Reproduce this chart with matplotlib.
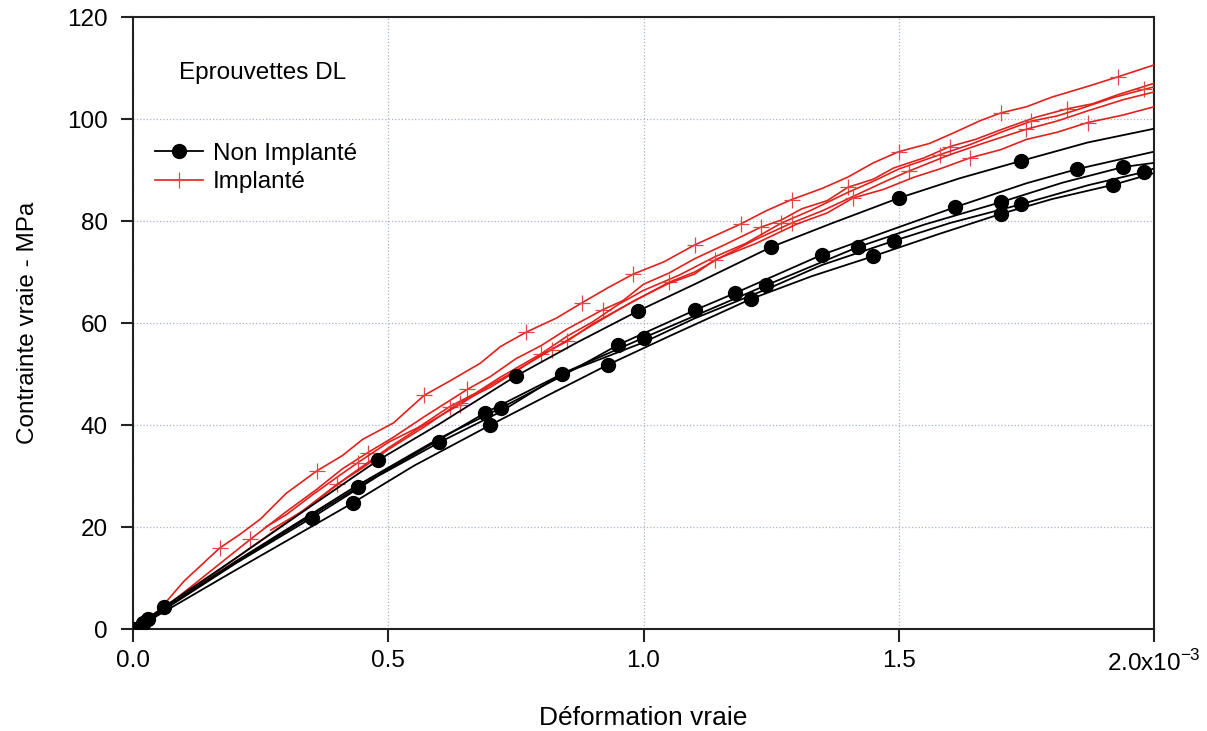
import matplotlib
matplotlib.use("Agg")
import matplotlib.pyplot as plt

plt.rcParams['font.family'] = ['Liberation Sans', 'DejaVu Sans']

# strain in units of 1e-3, stress in MPa
## Non implanté (black)
k1_x = [0, 0.06, 0.2, 0.35, 0.48, 0.6, 0.75, 0.87, 0.99, 1.1, 1.25, 1.37, 1.5, 1.62, 1.74, 1.87, 2.0]
k1_y = [0, 4.3, 13.8, 24.2, 33.1, 40.2, 49.6, 56.2, 62.4, 67.6, 74.9, 79.6, 84.5, 88.4, 91.8, 95.4, 98.1]
k1_mk = [0, 1, 4, 6, 8, 10, 12, 14]

k2_x = [0, 0.03, 0.2, 0.43, 0.6, 0.72, 0.84, 0.95, 1.1, 1.18, 1.35, 1.5, 1.61, 1.75, 1.85, 2.0]
k2_y = [0, 2.0, 13.2, 27.6, 37.4, 43.3, 49.6, 55.7, 62.5, 65.9, 73.4, 78.8, 82.7, 87.4, 90.2, 93.6]
k2_mk = [1, 5, 7, 8, 9, 10, 12, 14]

k3_x = [0, 0.02, 0.2, 0.44, 0.69, 0.85, 1.0, 1.24, 1.42, 1.55, 1.70, 1.82, 1.94, 2.0]
k3_y = [0, 1.2, 13.0, 27.8, 42.4, 50.5, 57.1, 67.4, 74.9, 79.3, 83.7, 87.5, 90.6, 91.4]
k3_mk = [1, 3, 4, 6, 7, 8, 10, 12]

k4_x = [0, 0.03, 0.2, 0.35, 0.48, 0.60, 0.72, 0.84, 1.0, 1.1, 1.25, 1.35, 1.49, 1.6, 1.74, 1.87, 1.98, 2.0]
k4_y = [0, 1.8, 12.8, 21.8, 30.0, 36.6, 42.6, 50.0, 56.2, 60.9, 67.0, 71.4, 76.1, 79.6, 83.3, 87.0, 89.6, 90.3]
k4_mk = [3, 5, 7, 12, 14, 16]

k5_x = [0, 0.02, 0.2, 0.43, 0.55, 0.70, 0.82, 0.93, 1.05, 1.21, 1.33, 1.45, 1.58, 1.70, 1.80, 1.92, 2.0]
k5_y = [0, 1.0, 11.5, 24.7, 32.0, 40.0, 46.2, 51.8, 57.4, 64.7, 69.2, 73.1, 77.5, 81.4, 84.3, 87.1, 89.4]
k5_mk = [0, 1, 3, 5, 7, 9, 11, 13, 15]

## Implanté (red)
r1_x = [0, 0.05, 0.10, 0.17, 0.21, 0.25, 0.30, 0.36, 0.41, 0.45, 0.51, 0.57, 0.62, 0.68, 0.72, 0.77, 0.83, 0.88,
        0.93, 0.98, 1.04, 1.10, 1.19, 1.24, 1.29, 1.35, 1.40, 1.45, 1.50, 1.56, 1.61, 1.66, 1.70, 1.75, 1.80,
        1.87, 1.93, 2.0]
r1_y = [0, 3.6, 9.4, 15.9, 18.6, 21.6, 26.6, 31.0, 34.0, 37.2, 40.4, 45.8, 48.6, 52.1, 55.4, 58.2, 61.0, 64.0,
        66.9, 69.6, 72.0, 75.3, 79.4, 82.0, 84.2, 86.4, 88.6, 91.4, 93.6, 95.2, 97.4, 99.7, 101.2, 102.4, 104.3,
        106.4, 108.3, 110.6]
r1_mk = [3, 7, 11, 15, 17, 19, 21, 22, 24, 28, 32, 36]

r2_x = [0, 0.05, 0.12, 0.23, 0.30, 0.36, 0.41, 0.46, 0.51, 0.57, 0.655, 0.70, 0.75, 0.80, 0.85, 0.92, 0.96, 1.0,
        1.05, 1.1, 1.16, 1.23, 1.27, 1.31, 1.36, 1.40, 1.45, 1.49, 1.55, 1.60, 1.65, 1.70, 1.77, 1.83, 1.88,
        1.93, 2.0]
r2_y = [0, 3.3, 8.8, 17.6, 23.0, 27.4, 31.4, 34.6, 37.6, 41.6, 47.0, 49.5, 53.0, 55.6, 58.8, 62.6, 64.4, 67.6,
        69.8, 72.6, 75.4, 78.8, 80.2, 82.4, 84.0, 86.6, 88.2, 90.4, 92.4, 94.6, 96.0, 97.9, 100.4, 102.0, 103.0,
        104.8, 107.0]
r2_mk = [3, 7, 10, 15, 21, 25, 29, 33]

r3_x = [0.26, 0.30, 0.35, 0.40, 0.44, 0.5, 0.56, 0.62, 0.67, 0.72, 0.80, 0.85, 0.90, 0.95, 1.0, 1.07, 1.14,
        1.20, 1.27, 1.33, 1.40, 1.45, 1.50, 1.58, 1.64, 1.70, 1.76, 1.81, 1.855, 1.92, 1.98, 2.0]
r3_y = [20.0, 22.4, 26.2, 29.8, 32.6, 36.6, 39.6, 43.6, 46.2, 49.4, 54.0, 57.4, 60.2, 63.6, 66.4, 69.4, 73.0,
        75.6, 79.6, 82.2, 85.6, 87.8, 90.2, 93.0, 95.0, 97.4, 99.6, 100.6, 102.0, 104.2, 105.8, 106.3]
r3_mk = [4, 7, 10, 18, 23, 26, 30]

r4_x = [0.27, 0.33, 0.40, 0.45, 0.50, 0.57, 0.64, 0.70, 0.75, 0.80, 0.85, 0.90, 0.95, 1.05, 1.10, 1.15, 1.22,
        1.29, 1.35, 1.41, 1.47, 1.52, 1.60, 1.67, 1.75, 1.81, 1.87, 1.94, 2.0]
r4_y = [19.4, 23.0, 28.4, 31.6, 35.2, 39.6, 44.4, 47.4, 50.5, 53.8, 56.4, 59.8, 62.6, 68.0, 70.0, 72.8, 76.4,
        79.6, 82.0, 84.8, 87.6, 89.8, 93.0, 95.4, 98.0, 99.6, 101.6, 103.8, 105.3]
r4_mk = [2, 6, 10, 13, 17, 21, 24]

r5_x = [0, 0.05, 0.2, 0.35, 0.42, 0.5, 0.56, 0.64, 0.70, 0.78, 0.82, 0.90, 0.98, 1.05, 1.10, 1.14, 1.22, 1.30,
        1.36, 1.41, 1.47, 1.53, 1.58, 1.64, 1.70, 1.75, 1.81, 1.87, 1.94, 2.0]
r5_y = [0, 3.0, 13.8, 24.4, 29.8, 35.5, 39.4, 44.0, 47.8, 52.4, 54.8, 59.6, 64.3, 67.8, 69.6, 72.4, 75.6, 79.4,
        81.6, 84.5, 86.2, 88.6, 90.2, 92.4, 94.0, 96.0, 97.4, 99.3, 100.8, 102.4]
r5_mk = [7, 10, 15, 19, 23, 27]

x_ticks = [0.0, 0.5, 1.0, 1.5, 2.0]
x_labels = ['0.0', '0.5', '1.0', '1.5', r'2.0x10$^{\mathregular{-3}}$']
y_ticks = [0, 20, 40, 60, 80, 100, 120]

red = '#e3201b'
fig = plt.figure(figsize=(12.07, 7.31), dpi=100)
ax = fig.add_axes([0.1102, 0.1395, 0.8459, 0.8372])

blacks = [(k1_x, k1_y, k1_mk), (k2_x, k2_y, k2_mk), (k3_x, k3_y, k3_mk),
          (k4_x, k4_y, k4_mk), (k5_x, k5_y, k5_mk)]
reds = [(r1_x, r1_y, r1_mk), (r2_x, r2_y, r2_mk), (r3_x, r3_y, r3_mk),
        (r4_x, r4_y, r4_mk), (r5_x, r5_y, r5_mk)]

for i, (x, y, mk) in enumerate(reds):
    ax.plot(x, y, color=red, lw=1.2, marker='+', markevery=mk, ms=11.5, mew=0.9,
            mec='#e04848', label='Implanté' if i == 0 else None, zorder=3)
for i, (x, y, mk) in enumerate(blacks):
    ax.plot(x, y, color='black', lw=1.3, marker='o', markevery=mk, ms=10,
            label='Non Implanté' if i == 0 else None, zorder=4)

ax.set_xlim(0, 2.0)
ax.set_ylim(0, 120)
ax.set_xticks(x_ticks)
ax.set_xticklabels(x_labels)
ax.set_yticks(y_ticks)
ax.grid(True, color='#a8b0dc', ls=':', lw=0.9)
ax.set_axisbelow(True)
for s in ax.spines.values():
    s.set_linewidth(1.5)
    s.set_color('#222222')
ax.tick_params(labelsize=17.5, length=9, width=1.5, pad=6, color='#222222')
ax.tick_params(axis='y', pad=9)
ax.set_xlabel('Déformation vraie', fontsize=19, labelpad=22)
ax.set_ylabel('Contrainte vraie - MPa', fontsize=17.5, labelpad=20)

ax.text(0.09, 109, 'Eprouvettes DL', fontsize=17.5, va='center')

handles, labels = ax.get_legend_handles_labels()
ax.legend(handles[::-1], labels[::-1], loc='upper left', bbox_to_anchor=(0.0, 0.83),
          frameon=False, fontsize=17.5, handlelength=2.0, handletextpad=0.4,
          labelspacing=0.25, numpoints=1)

fig.savefig('out.png', dpi=100)
